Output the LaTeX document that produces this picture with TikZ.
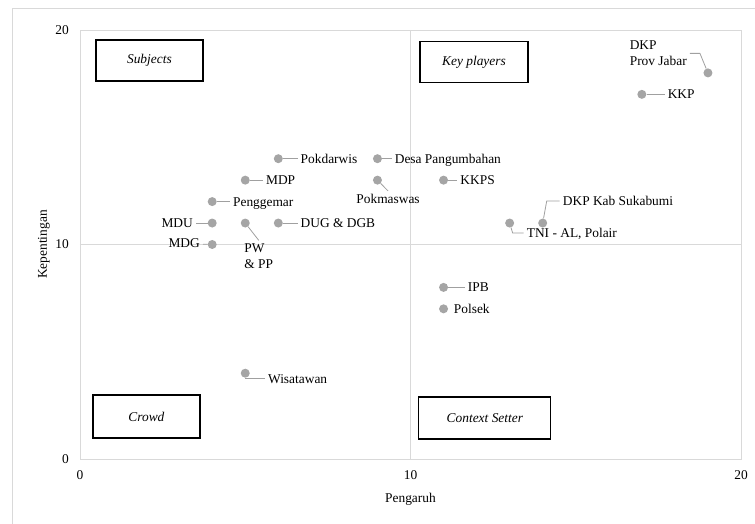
\documentclass[tikz,border=0pt]{standalone}
\usepackage{fontspec}
\setmainfont{Liberation Serif}
\usepackage{tikz}
\usetikzlibrary{positioning}
\definecolor{dotgray}{HTML}{A5A5A5}
\definecolor{leadgray}{HTML}{A0A0A0}
\definecolor{gridgray}{HTML}{D9D9D9}

\begin{document}
\begin{tikzpicture}[x=33.05pt,y=21.45pt,every node/.style={font=\fontsize{13.4}{16}\selectfont,inner sep=3pt},dot/.style={circle,fill=dotgray,inner sep=0pt,minimum size=9pt},lbl/.style={text height=9.5pt,text depth=.5pt},lead/.style={draw=leadgray,line width=.8pt},quad/.style={draw=black,line width=1.2pt,minimum width=107pt,minimum height=41pt,font=\fontsize{13.4}{16}\selectfont\itshape}]
	
	\useasboundingbox (-80pt,-65pt) rectangle (675pt,459pt);
	\draw[gridgray,line width=.8pt] (-68pt,-65pt) -- (-68pt,451pt) -- (675pt,451pt);
	\draw[gridgray,line width=.9pt] (0,0) rectangle (20,20) (10,0) -- (10,20) (0,10) -- (20,10);
	
	\foreach \v in {0,10,20} {
		\node[anchor=east] (y\v) at (-0.24,\v) {\v};
		\node (x\v) at (\v,-0.75) {\v};
	}
	\node[lbl] (xtitle) at (10,-1.8) {Pengaruh};
	\node[rotate=90] (ytitle) at (-1.09,10) {Kepentingan};
	
	\node[quad] (subjects) at (2.10,18.58) {Subjects};
	\node[quad,minimum width=108pt] (keyplayers) at (11.92,18.49) {Key players};
	\node[quad,minimum height=43pt] (crowd) at (2.01,1.98) {Crowd};
	\node[quad,minimum width=132pt,minimum height=42pt] (context) at (12.25,1.91) {Context Setter};
	
	\node[dot] (dkpprov) at (19,18) {};
	\node[dot] (kkp) at (17,17) {};
	\node[dot] (pokdarwis) at (6,14) {};
	\node[dot] (desa) at (9,14) {};
	\node[dot] (mdp) at (5,13) {};
	\node[dot] (pokmaswas) at (9,13) {};
	\node[dot] (kkps) at (11,13) {};
	\node[dot] (penggemar) at (4,12) {};
	\node[dot] (mdu) at (4,11) {};
	\node[dot] (pwpp) at (5,11) {};
	\node[dot] (dug) at (6,11) {};
	\node[dot] (tni) at (13,11) {};
	\node[dot] (dkpkab) at (14,11) {};
	\node[dot] (mdg) at (4,10) {};
	\node[dot] (ipb) at (11,8) {};
	\node[dot] (polsek) at (11,7) {};
	\node[dot] (wisatawan) at (5,4) {};
	
	\node[align=left,anchor=east] (ldkpprov) at ([xshift=-18pt,yshift=19.5pt]dkpprov) {DKP\\Prov Jabar};
	\node[lbl,right=18pt of kkp] (lkkp) {KKP};
	\node[lbl,right=14.5pt of pokdarwis] (lpokdarwis) {Pokdarwis};
	\node[lbl,right=9.5pt of desa] (ldesa) {Desa Pangumbahan};
	\node[lbl,right=13pt of mdp] (lmdp) {MDP};
	\node[lbl] (lpokmaswas) at ([xshift=10.6pt,yshift=-19pt]pokmaswas) {Pokmaswas};
	\node[lbl,right=9pt of kkps] (lkkps) {KKPS};
	\node[lbl,right=13pt of penggemar] (lpenggemar) {Penggemar};
	\node[lbl,left=11.5pt of mdu] (lmdu) {MDU};
	\node[align=left,anchor=west] (lpwpp) at ([xshift=-4pt,yshift=-33pt]pwpp) {PW\\\& PP};
	\node[lbl,right=14.5pt of dug] (ldug) {DUG \& DGB};
	\node[lbl,anchor=west] (ltni) at ([xshift=14pt,yshift=-10pt]tni) {TNI - AL, Polair};
	\node[lbl,anchor=west] (ldkpkab) at ([xshift=17pt,yshift=22pt]dkpkab) {DKP Kab Sukabumi};
	\node[lbl,left=4.5pt of mdg,yshift=1pt] (lmdg) {MDG};
	\node[lbl,right=16.5pt of ipb] (lipb) {IPB};
	\node[lbl,right=2.5pt of polsek] (lpolsek) {Polsek};
	\node[lbl,right=15pt of wisatawan,yshift=-5.5pt] (lwisatawan) {Wisatawan};
	
	\draw[lead] (ldkpprov.east) -- ++(10pt,0) -- (dkpprov);
	\draw[lead] (kkp) -- (lkkp);
	\draw[lead] (pokdarwis) -- (lpokdarwis);
	\draw[lead] (desa) -- (ldesa);
	\draw[lead] (mdp) -- (lmdp);
	\draw[lead] (pokmaswas) -- (lpokmaswas.north);
	\draw[lead] (kkps) -- (lkkps);
	\draw[lead] (penggemar) -- (lpenggemar);
	\draw[lead] (mdu) -- (lmdu);
	\draw[lead] (pwpp) -- (lpwpp.north);
	\draw[lead] (dug) -- (ldug);
	\draw[lead] (ltni.west) -- ++(-11pt,0) -- (tni);
	\draw[lead] (ldkpkab.west) -- ++(-13pt,0) -- (dkpkab);
	\draw[lead] (mdg) -- (lmdg);
	\draw[lead] (ipb) -- (lipb);
	\draw[lead] (wisatawan) |- (lwisatawan);
\end{tikzpicture}
\end{document}
